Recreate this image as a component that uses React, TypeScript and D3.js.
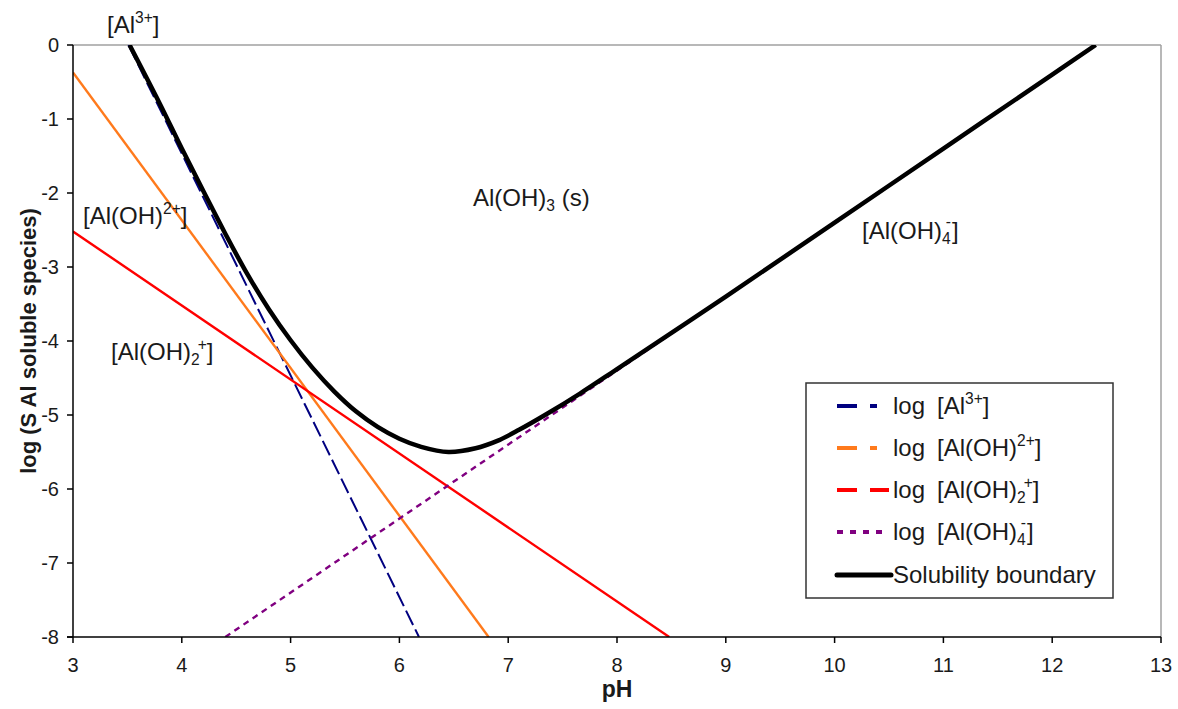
import React from "react";
import * as d3 from "d3";

// Axis ticks
const pHTicks = [3, 4, 5, 6, 7, 8, 9, 10, 11, 12, 13];
const logTicks = [0, -1, -2, -3, -4, -5, -6, -7, -8];

// Species lines: [pH, log concentration] end points
const al3Line: [number, number][] = [[3.51, 0], [6.18, -8]];
const alOH2Line: [number, number][] = [[3.0, -0.37], [6.82, -8]];
const alOH2pLine: [number, number][] = [[3.0, -2.52], [8.48, -8]];
const alOH4Line: [number, number][] = [[4.4, -8], [12.4, 0]];

// Total dissolved aluminium (solubility boundary)
const boundary: [number, number][] = [
  [3.52, 0], [3.8, -0.8], [4.0, -1.4], [4.2, -1.98], [4.4, -2.55],
  [4.6, -3.09], [4.8, -3.57], [5.0, -3.99], [5.2, -4.36], [5.4, -4.68],
  [5.6, -4.95], [5.8, -5.16], [6.0, -5.32], [6.2, -5.43], [6.45, -5.5],
  [6.7, -5.45], [6.9, -5.35], [7.1, -5.2], [7.35, -4.99], [7.66, -4.71],
  [8.0, -4.38], [9.0, -3.4], [10.0, -2.4], [11.0, -1.4], [12.0, -0.4], [12.4, 0],
];

type Seg = { t: string; k?: "sup" | "sub"; dx?: number; rise?: number };

const W = 1178;
const H = 709;
const left = 73, right = 1161, top = 45, bottom = 637;

const x = d3.scaleLinear().domain([3, 13]).range([left, right]);
const y = d3.scaleLinear().domain([-8, 0]).range([bottom, top]);

const straight = d3.line<[number, number]>().x((d) => x(d[0])).y((d) => y(d[1]));
const smooth = d3
  .line<[number, number]>()
  .x((d) => x(d[0]))
  .y((d) => y(d[1]))
  .curve(d3.curveCatmullRom.alpha(0.5));

const FONT = "Arial, 'Liberation Sans', Helvetica, sans-serif";
const TEXT = "#1a1a1a";

function Rich({ x: px, y: py, segs, size, anchor = "start" }: { x: number; y: number; segs: Seg[]; size: number; anchor?: string }) {
  let cur = 0;
  return (
    <text x={px} y={py} fontSize={size} fontFamily={FONT} fill={TEXT} textAnchor={anchor} style={{ whiteSpace: "pre" }}>
      {segs.map((s, i) => {
        const target = s.k === "sup" ? -(s.rise ?? 0.4) * size : s.k === "sub" ? 0.22 * size : 0;
        const dy = target - cur;
        cur = target;
        return (
          <tspan key={i} dy={dy} dx={s.dx ?? 0} fontSize={s.k ? size * 0.65 : size}>
            {s.t}
          </tspan>
        );
      })}
    </text>
  );
}

const al3Label: Seg[] = [{ t: "[Al" }, { t: "3+", k: "sup" }, { t: "]" }];
const aloh2Label: Seg[] = [{ t: "[Al(OH)" }, { t: "2+", k: "sup" }, { t: "]" }];
const aloh2pLabel: Seg[] = [{ t: "[Al(OH)" }, { t: "2", k: "sub" }, { t: "+", k: "sup", dx: -2 }, { t: "]" }];
const aloh4Label: Seg[] = [{ t: "[Al(OH)" }, { t: "4", k: "sub" }, { t: "-", k: "sup", dx: -5, rise: 0.48 }, { t: "]", dx: 1 }];

const series = [
  { name: "al3", data: al3Line, color: "#000080", width: 2, dash: "16 5", legendDash: "20 13", legendLen: 40, label: al3Label },
  { name: "aloh2", data: alOH2Line, color: "#ff7a1c", width: 2.4, dash: undefined, legendDash: "20 13", legendLen: 40, label: aloh2Label },
  { name: "aloh2p", data: alOH2pLine, color: "#ff0000", width: 2.4, dash: undefined, legendDash: "20 13", legendLen: 52, label: aloh2pLabel },
  { name: "aloh4", data: alOH4Line, color: "#800080", width: 2.4, dash: "6 5", legendDash: "6 7", legendLen: 46, label: aloh4Label },
];

export default function App() {
  const legendX = 806, legendY = 383, legendW = 307, legendH = 215;
  const rowY = [406, 448, 490, 532, 575];
  return (
    <svg width={W} height={H} style={{ position: "absolute", left: 0, top: 0, background: "#fff" }}>
      <defs>
        <clipPath id="plot">
          <rect x={left} y={top} width={right - left} height={bottom - top} />
        </clipPath>
      </defs>
      <rect width={W} height={H} fill="#fff" />

      {/* frame */}
      <line x1={left} x2={right} y1={top} y2={top} stroke="#a0a0a0" strokeWidth={1.5} />
      <line x1={right} x2={right} y1={top} y2={bottom} stroke="#a0a0a0" strokeWidth={1.5} />

      {/* curves */}
      <g clipPath="url(#plot)" fill="none">
        {series.map((s) => (
          <path key={s.name} d={straight(s.data) ?? ""} stroke={s.color} strokeWidth={s.width} strokeDasharray={s.dash} />
        ))}
        <path d={smooth(boundary) ?? ""} stroke="#000" strokeWidth={4.5} strokeLinejoin="round" />
      </g>

      {/* y axis */}
      <line x1={left} x2={left} y1={top} y2={bottom} stroke="#000" strokeWidth={1.5} />
      {logTicks.map((t) => (
        <g key={t}>
          <line x1={left - 6} x2={left} y1={y(t)} y2={y(t)} stroke="#000" strokeWidth={1.5} />
          <text x={left - 14} y={y(t) + 7} fontSize={20} fontFamily={FONT} fill={TEXT} textAnchor="end">
            {t}
          </text>
        </g>
      ))}

      {/* x axis */}
      <line x1={left - 6} x2={right} y1={bottom} y2={bottom} stroke="#000" strokeWidth={1.5} />
      {pHTicks.map((t) => (
        <g key={t}>
          <line x1={x(t)} x2={x(t)} y1={bottom} y2={bottom + 6} stroke="#000" strokeWidth={1.5} />
          <text x={x(t)} y={672} fontSize={20} fontFamily={FONT} fill={TEXT} textAnchor="middle">
            {t}
          </text>
        </g>
      ))}

      {/* axis titles */}
      <text x={(left + right) / 2} y={697} fontSize={23} fontWeight="bold" fontFamily={FONT} fill={TEXT} textAnchor="middle">
        pH
      </text>
      <text
        transform={`translate(36, ${(top + bottom) / 2}) rotate(-90)`}
        fontSize={22}
        fontWeight="bold"
        fontFamily={FONT}
        fill={TEXT}
        textAnchor="middle"
      >
        log (S Al soluble species)
      </text>

      {/* region labels */}
      <Rich x={107} y={33} size={24} segs={al3Label} />
      <Rich x={83} y={224} size={24} segs={aloh2Label} />
      <Rich x={473} y={206} size={24} segs={[{ t: "Al(OH)" }, { t: "3", k: "sub" }, { t: " (s)" }]} />
      <Rich x={862} y={239} size={24} segs={aloh4Label} />
      <Rich x={111} y={360} size={24} segs={aloh2pLabel} />

      {/* legend */}
      <rect x={legendX} y={legendY} width={legendW} height={legendH} fill="#fff" stroke="#333" strokeWidth={1.5} />
      {series.map((s, i) => (
        <g key={s.name}>
          <line x1={837} x2={837 + s.legendLen} y1={rowY[i]} y2={rowY[i]} stroke={s.color} strokeWidth={4} strokeDasharray={s.legendDash} />
          <text x={893} y={rowY[i] + 8} fontSize={24} fontFamily={FONT} fill={TEXT}>
            log
          </text>
          <Rich x={937} y={rowY[i] + 8} size={24} segs={s.label} />
        </g>
      ))}
      <line x1={837} x2={891} y1={rowY[4]} y2={rowY[4]} stroke="#000" strokeWidth={5} strokeLinecap="round" />
      <text x={893} y={rowY[4] + 8} fontSize={24} fontFamily={FONT} fill={TEXT}>
        Solubility boundary
      </text>
    </svg>
  );
}
